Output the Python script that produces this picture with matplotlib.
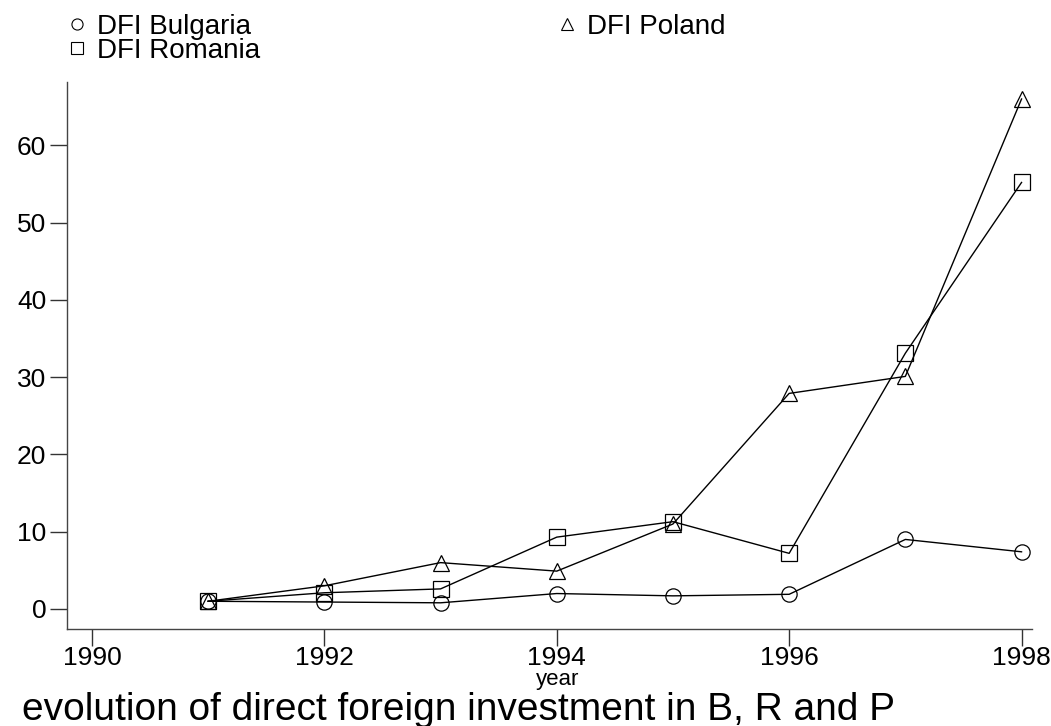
import matplotlib
matplotlib.use("Agg")
import matplotlib.pyplot as plt
from matplotlib.lines import Line2D

plt.rcParams['font.family'] = ['Liberation Sans', 'DejaVu Sans']

years = [1991, 1992, 1993, 1994, 1995, 1996, 1997, 1998]
dfi_bulgaria = [1.0, 0.9, 0.8, 2.0, 1.7, 1.9, 9.0, 7.4]
dfi_poland = [1.0, 3.0, 6.0, 4.9, 11.0, 27.9, 30.1, 66.0]
dfi_romania = [1.0, 2.1, 2.6, 9.3, 11.3, 7.2, 33.1, 55.2]
xticks = [1990, 1992, 1994, 1996, 1998]
yticks = [0, 10, 20, 30, 40, 50, 60]
legend_labels = ['DFI Bulgaria', 'DFI Poland', 'DFI Romania']

W, H = 1051, 726
fig = plt.figure(figsize=(W / 100, H / 100), dpi=100)
ax_h = 629 - 82
ax = fig.add_axes([67 / W, (H - 629) / H, (1032 - 67) / W, ax_h / H])

style = dict(color='black', lw=1.0, markersize=11, markerfacecolor='none',
             markeredgecolor='black', markeredgewidth=0.9)
ax.plot(years, dfi_bulgaria, marker='o', **style)
ax.plot(years, dfi_poland, marker='^', **style)
ax.plot(years, dfi_romania, marker='s', **style)

ax.set_xlim(1989.785, 1998.09)
ax.set_ylim(-2.59, 68.2)
ax.set_xticks(xticks)
ax.set_yticks(yticks)
ax.tick_params(axis='both', direction='out', length=12, width=1.0, color='#333333',
               labelsize=19)
ax.tick_params(axis='x', pad=0)
ax.tick_params(axis='y', pad=3)
for s in ['top', 'right']:
    ax.spines[s].set_visible(False)
for s in ['left', 'bottom']:
    ax.spines[s].set_color('#444444')
    ax.spines[s].set_linewidth(1.0)

ax.set_xlabel('year', fontsize=16, va='baseline')
ax.xaxis.set_label_coords(0.508, (629 - 685) / ax_h)
fig.text(22 / W, 1 - 720 / H, 'evolution of direct foreign investment in B, R and P',
         fontsize=28, ha='left', va='baseline')

# legend (manual layout in figure pixels)
leg_items = [('o', legend_labels[0], 77, 24), ('^', legend_labels[1], 567, 24),
             ('s', legend_labels[2], 77, 48)]
for m, lab, px, py in leg_items:
    fig.add_artist(Line2D([px / W], [1 - py / H], transform=fig.transFigure, ls='none',
                          marker=m, markersize=8, markerfacecolor='none',
                          markeredgecolor='black', markeredgewidth=0.8))
    fig.text((px + 20) / W, 1 - py / H, lab, fontsize=20, ha='left', va='center_baseline')

fig.savefig('out.png', dpi=100)
